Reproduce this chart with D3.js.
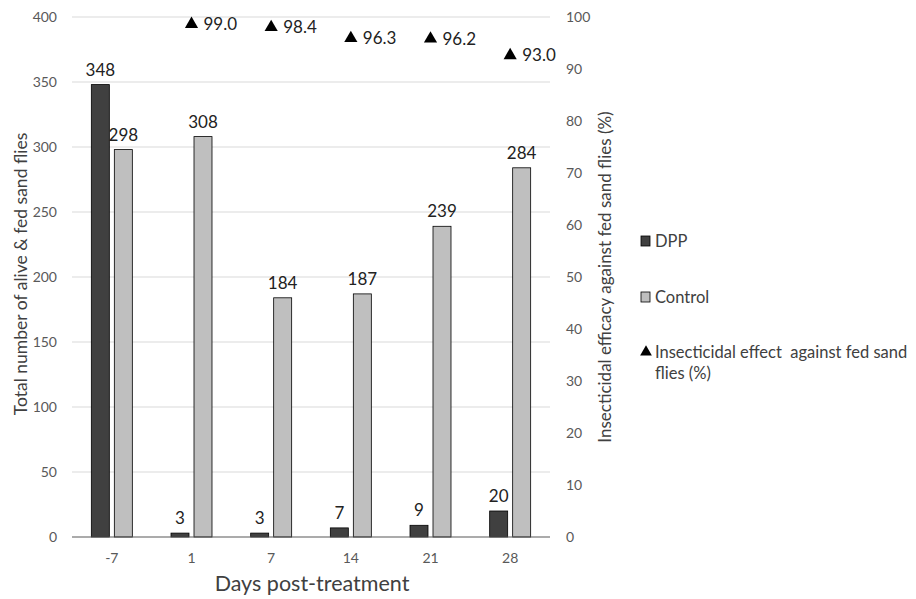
<!DOCTYPE html>
<html><head><meta charset="utf-8">
<script src="https://cdn.jsdelivr.net/npm/d3@7"></script>
<style>body{margin:0;background:#fff;} text{font-family:Lato,"Open Sans",sans-serif;}</style>
</head><body>
<svg id="c" width="916" height="599"></svg>
<script>
const categories = ["-7","1","7","14","21","28"];
const dpp = [348,3,3,7,9,20];
const control = [298,308,184,187,239,284];
const efficacy = [null,99.0,98.4,96.3,96.2,93.0];
const leftTicks = [0,50,100,150,200,250,300,350,400];
const rightTicks = [0,10,20,30,40,50,60,70,80,90,100];

const svg = d3.select("#c");
const L = 72, R = 550, T = 17, B = 537;
const x = d3.scaleBand().domain(categories).range([L,R]).padding(0);
const y = d3.scaleLinear().domain([0,400]).range([B,T]);
const y2 = d3.scaleLinear().domain([0,100]).range([B,T]);
const FONT = 'Lato,"Open Sans",sans-serif';

svg.append("g").selectAll("line").data(leftTicks.filter(d=>d>0)).join("line")
  .attr("x1",L).attr("x2",R).attr("y1",d=>y(d)).attr("y2",d=>y(d))
  .attr("stroke","#d9d9d9").attr("stroke-width",1);

const la = svg.append("g").attr("transform",`translate(${L},0)`)
  .call(d3.axisLeft(y).tickValues(leftTicks).tickSize(0).tickPadding(15));
la.select(".domain").remove();
la.selectAll("text").attr("font-size",14).attr("fill","#595959").style("font-family",FONT);

const ra = svg.append("g").attr("transform",`translate(${566},0)`)
  .call(d3.axisRight(y2).tickValues(rightTicks).tickSize(0).tickPadding(0));
ra.select(".domain").remove();
ra.selectAll("text").attr("font-size",14).attr("fill","#595959").style("font-family",FONT);

const bw = 18, gap = 5;
const g = svg.append("g");
categories.forEach((c,i)=>{
  const cx = x(c) + x.bandwidth()/2;
  g.append("rect").attr("x",cx - gap/2 - bw).attr("y",y(dpp[i])).attr("width",bw).attr("height",B-y(dpp[i]))
    .attr("fill","#404040").attr("stroke","#000").attr("stroke-width",0.8);
  g.append("rect").attr("x",cx + gap/2).attr("y",y(control[i])).attr("width",bw).attr("height",B-y(control[i]))
    .attr("fill","#bfbfbf").attr("stroke","#000").attr("stroke-width",0.8);
  g.append("text").attr("x",cx - gap/2 - bw/2).attr("y",y(dpp[i])-9).attr("text-anchor","middle")
    .attr("font-size",17).attr("fill","#222").text(dpp[i]);
  g.append("text").attr("x",cx + gap/2 + bw/2).attr("y",y(control[i])-9).attr("text-anchor","middle")
    .attr("font-size",17).attr("fill","#222").text(control[i]);
  if(efficacy[i]!==null){
    const ty = y2(efficacy[i]) + 2;
    g.append("path").attr("d",d3.symbol().type(d3.symbolTriangle).size(75)())
      .attr("transform",`translate(${cx},${ty})`).attr("fill","#000");
    g.append("text").attr("x",cx+12).attr("y",ty+6).attr("font-size",17).attr("fill","#222")
      .text(efficacy[i].toFixed(1));
  }
});

svg.append("line").attr("x1",L).attr("x2",R).attr("y1",B).attr("y2",B).attr("stroke","#595959").attr("stroke-width",1.2);
svg.append("g").selectAll("text").data(categories).join("text")
  .attr("x",d=>x(d)+x.bandwidth()/2).attr("y",563).attr("text-anchor","middle")
  .attr("font-size",14).attr("fill","#595959").text(d=>d);

svg.append("text").attr("x",312).attr("y",591).attr("text-anchor","middle").attr("font-size",21.5).attr("fill","#404040").text("Days post-treatment");
svg.append("text").attr("transform","translate(27,274) rotate(-90)").attr("text-anchor","middle").attr("font-size",17.5).attr("fill","#404040").text("Total number of alive & fed sand flies");
svg.append("text").attr("transform","translate(611,277) rotate(-90)").attr("text-anchor","middle").attr("font-size",17).attr("fill","#404040").text("Insecticidal efficacy against fed sand flies (%)");

const lg = svg.append("g");
lg.append("rect").attr("x",641).attr("y",236).attr("width",9).attr("height",10).attr("fill","#404040").attr("stroke","#000").attr("stroke-width",0.8);
lg.append("text").attr("x",655).attr("y",247).attr("font-size",16.5).attr("fill","#404040").text("DPP");
lg.append("rect").attr("x",641).attr("y",292).attr("width",9).attr("height",10).attr("fill","#bfbfbf").attr("stroke","#000").attr("stroke-width",0.8);
lg.append("text").attr("x",655).attr("y",303).attr("font-size",16.5).attr("fill","#404040").text("Control");
lg.append("path").attr("d",d3.symbol().type(d3.symbolTriangle).size(60)()).attr("transform","translate(646,352)").attr("fill","#000");
lg.append("text").attr("x",655).attr("y",358).attr("font-size",16.5).attr("fill","#404040").text("Insecticidal effect\u00a0 against fed sand");
lg.append("text").attr("x",655).attr("y",379).attr("font-size",16.5).attr("fill","#404040").text("flies (%)");
</script>
</body></html>
